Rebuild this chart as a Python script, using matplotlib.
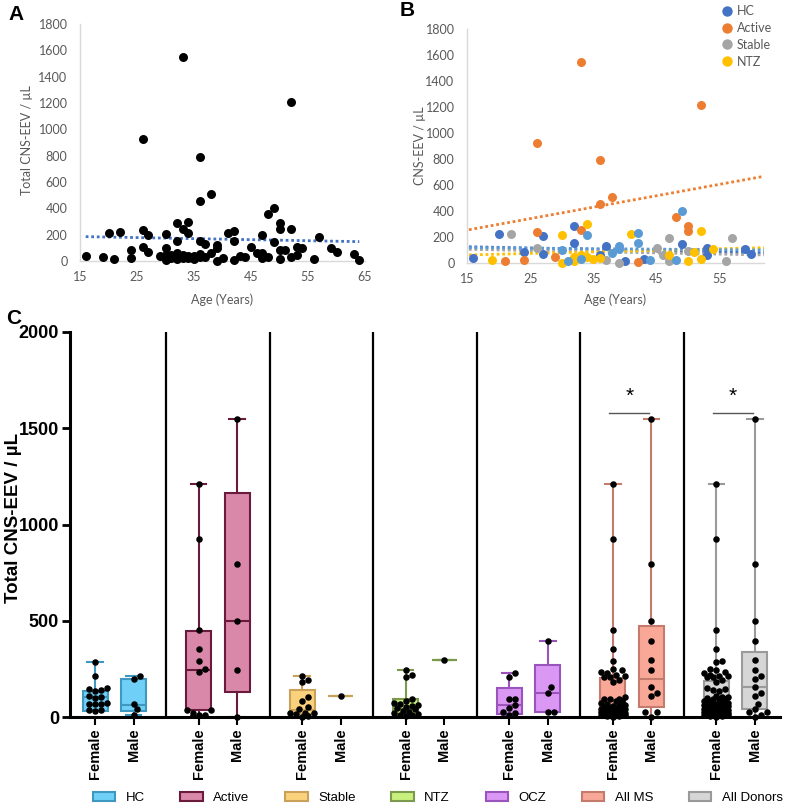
import numpy as np
import matplotlib
matplotlib.use('Agg')
import matplotlib.pyplot as plt
from matplotlib.patches import Patch
from matplotlib.lines import Line2D

# ---------------- data: panel A (age, total CNS-EEV / uL) ----------------
age_A = [16, 19, 21, 20, 22, 24, 24, 26, 26, 27, 27, 26, 29, 30, 30, 30, 30, 31, 31,
         32, 32, 32, 32, 33, 33, 33, 33, 34, 34, 34, 34, 35, 35, 36, 36, 36, 36, 36,
         37, 37, 38, 38, 39, 39, 39, 40, 41, 42, 42, 42, 43, 44, 45, 46, 47, 47, 47,
         48, 48, 49, 49, 50, 50, 50, 50, 51, 52, 52, 52, 53, 53, 54, 56, 57, 59, 60,
         63, 64]
val_A = [38, 33, 13, 212, 218, 84, 20, 235, 109, 198, 66, 927, 38, 205, 96, 46, 8, 20, 45,
         286, 152, 58, 13, 243, 1547, 46, 25, 299, 215, 38, 20, 18, 35, 793, 453, 152, 51, 30,
         129, 28, 506, 63, 122, 96, 0, 20, 215, 230, 154, 8, 38, 28, 109, 58, 198, 58, 20,
         354, 33, 400, 147, 291, 240, 84, 18, 84, 245, 1210, 33, 109, 46, 96, 18, 185, 96, 66,
         51, 8]
trend_A_age = [16, 64]
trend_A_val = [185, 147]

# ---------------- data: panel B (age, CNS-EEV / uL) per group ----------------
age_HC = [16, 20, 24, 27, 27, 32, 32, 37, 36, 40, 43, 49, 53, 53, 59, 60]
val_HC = [41, 220, 87, 208, 69, 285, 156, 131, 62, 15, 31, 146, 113, 58, 105, 69]
age_Act = [33, 52, 26, 36, 38, 36, 48, 50, 50, 33, 26, 29, 24, 21, 42]
val_Act = [1549, 1213, 923, 795, 508, 456, 354, 287, 246, 251, 236, 44, 26, 18, 5]
age_Stb = [22, 26, 37, 39, 45, 47, 46, 47, 50, 56, 57]
val_Stb = [220, 113, 23, 0, 113, 195, 62, 15, 95, 18, 190]
age_NTZ = [19, 30, 30, 34, 32, 32, 33, 34, 35, 36, 41, 47, 50, 52, 52, 51, 54]
val_NTZ = [26, 215, 3, 300, 45, 15, 60, 45, 30, 35, 220, 62, 18, 249, 31, 87, 105]
age_OCZ = [31, 33, 34, 39, 39, 42, 42, 44, 48, 49, 38, 30]
val_OCZ = [15, 31, 215, 131, 108, 228, 156, 26, 26, 402, 74, 100]
trend_B_age = [15.3, 62]
trend_B = {
    'Active': [256, 667],
    'HC': [125, 79],
    'OCZ': [118, 100],
    'Stable': [105, 62],
    'NTZ': [62, 118],
}

# ---------------- data: panel C (Female / Male per group) ----------------
groups = ['HC', 'Active', 'Stable', 'NTZ', 'OCZ', 'All MS', 'All Donors']
sexes = ['Female', 'Male']
hc_f = [287, 213, 152, 148, 140, 135, 108, 102, 98, 72, 70, 68, 65, 36, 34, 32]
hc_m = [213, 200, 68, 40, 10]
act_f = [1210, 925, 452, 352, 291, 248, 232, 36, 36, 19, 10, 10]
act_m = [1548, 793, 500, 244, 2]
stb_f = [215, 192, 183, 102, 81, 52, 43, 22, 19, 19, 17, 5, 2]
stb_m = [109]
ntz_f = [244, 218, 210, 95, 85, 75, 70, 60, 55, 50, 45, 40, 30, 25, 20, 15, 10, 8, 5]
ntz_m = [296]
ocz_f = [227, 210, 94, 94, 62, 47, 24, 22, 10]
ocz_m = [395, 154, 126, 26, 26]
allms_f = act_f + stb_f + ntz_f + ocz_f
allms_m = act_m + stb_m + ntz_m + ocz_m
alld_f = hc_f + allms_f
alld_m = hc_m + allms_m
points_C = [hc_f, hc_m, act_f, act_m, stb_f, stb_m, ntz_f, ntz_m,
            ocz_f, ocz_m, allms_f, allms_m, alld_f, alld_m]
# box stats: (whislo, q1, med, q3, whishi)
box_C = [(30, 33, 105, 137, 287), (10, 33, 62, 200, 213),
         (5, 38, 244, 448, 1210), (2, 128, 500, 1165, 1548),
         (0, 15, 38, 142, 215), (109, 109, 109, 109, 109),
         (0, 5, 40, 91, 244), (296, 296, 296, 296, 296),
         (10, 14, 62, 149, 227), (26, 28, 126, 270, 395),
         (0, 19, 57, 204, 1208), (2, 54, 197, 473, 1548),
         (0, 28, 62, 187, 1208), (2, 40, 157, 339, 1548)]
fill_C = ['#6fcff6', '#da88a9', '#fbd27c', '#c8f07c', '#db97f4', '#f9a898', '#d6d6d6']
edge_C = ['#3e98bf', '#6a1a3c', '#c9a15a', '#7c9a4e', '#9a54bc', '#c57a6e', '#9a9a9a']
signif = ['All MS', 'All Donors']

# ---------------- figure ----------------
W, H = 786, 808
fig = plt.figure(figsize=(W / 100, H / 100), dpi=100)
FONT_X = ['Lato', 'DejaVu Sans']
FONT_C = ['Liberation Sans', 'DejaVu Sans']
GRAY = '#595959'


def ax_px(l, t, r, b):
    return fig.add_axes([l / W, 1 - b / H, (r - l) / W, (b - t) / H])


def excel_style(ax):
    for s in ['top', 'right']:
        ax.spines[s].set_visible(False)
    for s in ['left', 'bottom']:
        ax.spines[s].set_color('#d9d9d9')
        ax.spines[s].set_linewidth(1.0)
    ax.tick_params(length=0, labelsize=9, labelcolor=GRAY)
    ax.tick_params(axis='x', pad=7)
    ax.tick_params(axis='y', pad=9)
    for lab in ax.get_xticklabels() + ax.get_yticklabels():
        lab.set_fontfamily(FONT_X)


# ---- Panel A ----
axA = ax_px(80, 24, 365, 261)
axA.scatter(age_A, val_A, s=42, color='black', zorder=3, clip_on=False, linewidths=0)
axA.plot(trend_A_age, trend_A_val, color='#4472C4', ls=(0, (1, 1)), lw=2, zorder=2)
axA.set_xlim(15, 65)
axA.set_ylim(0, 1800)
axA.set_xticks(range(15, 66, 10))
axA.set_yticks(range(0, 1801, 200))
excel_style(axA)
fig.text(27 / W, 1 - 140 / H, 'Total CNS-EEV / µL', rotation=90, ha='center', va='center',
         fontsize=9, color=GRAY, family=FONT_X)
fig.text(222 / W, 1 - 300 / H, 'Age (Years)', ha='center', va='center', fontsize=9,
         color=GRAY, family=FONT_X)
fig.text(8 / W, 1 - 14 / H, 'A', fontsize=15, weight='bold', va='center', family=FONT_C)

# ---- Panel B ----
axB = ax_px(467, 29, 764, 263)
series_B = [('HC', age_HC, val_HC, '#4472C4'),
            ('Active', age_Act, val_Act, '#ED7D31'),
            ('Stable', age_Stb, val_Stb, '#A5A5A5'),
            ('NTZ', age_NTZ, val_NTZ, '#FFC000'),
            ('OCZ', age_OCZ, val_OCZ, '#5B9BD5')]
for name, a, v, c in series_B:
    axB.scatter(a, v, s=42, color=c, zorder=3, clip_on=False, linewidths=0)
for name, a, v, c in series_B:
    axB.plot(trend_B_age, trend_B[name], color=c, ls=(0, (1, 1)), lw=2, zorder=2)
axB.set_xlim(15, 62)
axB.set_ylim(0, 1800)
axB.set_xticks(range(15, 56, 10))
axB.set_yticks(range(0, 1801, 200))
excel_style(axB)
fig.text(420 / W, 1 - 146 / H, 'CNS-EEV / µL', rotation=90, ha='center', va='center',
         fontsize=9, color=GRAY, family=FONT_X)
fig.text(615 / W, 1 - 300 / H, 'Age (Years)', ha='center', va='center', fontsize=9,
         color=GRAY, family=FONT_X)
fig.text(400 / W, 1 - 11 / H, 'B', fontsize=15, weight='bold', va='center', family=FONT_C)
hB = [Line2D([], [], ls='none', marker='o', ms=7.5, mec='none', mfc=c)
      for name, a, v, c in series_B[:4]]
legB = fig.legend(hB, [s[0] for s in series_B[:4]], loc='upper left',
                  bbox_to_anchor=(716 / W, 1 + 1 / H), frameon=False, borderpad=0,
                  handlelength=0.7, handletextpad=0.45, labelspacing=0.38,
                  prop={'family': FONT_X, 'size': 9})
for t in legB.get_texts():
    t.set_color(GRAY)

# ---- Panel C ----
axC = ax_px(70, 332, 780, 717)
GAP = 2.69
pos_C = []
for gi in range(len(groups)):
    pos_C += [gi * GAP, gi * GAP + 1]
XS = 38.5          # px per x unit
YS = 385 / 2000.0  # px per y unit


def swarm(vals, pos, d=6.0, maxoff=12.5):
    vals = np.asarray(vals, float)
    placed = []
    out = np.zeros(len(vals))
    cands = [0.0]
    k = 1
    while k * d / 2 <= maxoff:
        cands += [k * d / 2, -k * d / 2]
        k += 1
    for i in np.argsort(vals):
        y = vals[i] * YS
        best, bestd = 0.0, -1
        for c in cands:
            md = min([np.hypot(c - px, y - py) for px, py in placed], default=1e9)
            if md >= d:
                best = c
                break
            if md > bestd:
                bestd, best = md, c
        placed.append((best, y))
        out[i] = pos + best / XS
    return out


for k, (pts, st, p) in enumerate(zip(points_C, box_C, pos_C)):
    gi = k // 2
    fc, ec = fill_C[gi], edge_C[gi]
    stats = [dict(whislo=st[0], q1=st[1], med=st[2], q3=st[3], whishi=st[4], fliers=[])]
    axC.bxp(stats, positions=[p], widths=0.65, capwidths=0.4, patch_artist=True,
            showfliers=False,
            boxprops=dict(facecolor=fc, edgecolor=ec, linewidth=1.5),
            whiskerprops=dict(color=ec, linewidth=1.5),
            capprops=dict(color=ec, linewidth=1.5),
            medianprops=dict(color=ec, linewidth=1.5), manage_ticks=False)
    xs = swarm(pts, p)
    axC.scatter(xs, pts, s=22, color='black', zorder=5, clip_on=False, linewidths=0)

seps = [gi * GAP + 1 + (GAP - 1) / 2 for gi in range(len(groups) - 1)]
axC.vlines(seps, 0, 2000, color='black', lw=1.6, zorder=1)

for g in signif:
    gi = groups.index(g)
    x0, x1 = gi * GAP - 0.1, gi * GAP + 0.95
    axC.plot([x0, x1], [1580, 1580], color='#555555', lw=1)
    axC.text((x0 + x1) / 2, 1665, '*', ha='center', va='center', fontsize=15,
             family=FONT_C)

axC.set_xlim(-0.65, (len(groups) - 1) * GAP + 1 + 0.65)
axC.set_ylim(0, 2000)
axC.set_yticks(range(0, 2001, 500))
axC.set_xticks(pos_C)
axC.set_xticklabels(sexes * len(groups), rotation=90, fontsize=10.5, weight='bold',
                    family=FONT_C)
for lab in axC.get_yticklabels():
    lab.set_fontfamily(FONT_C)
    lab.set_fontweight('bold')
    lab.set_fontsize(13)
axC.tick_params(axis='y', length=6, width=2, pad=2)
axC.tick_params(axis='x', length=6, width=1.5, pad=2)
for s in ['top', 'right']:
    axC.spines[s].set_visible(False)
for s in ['left', 'bottom']:
    axC.spines[s].set_linewidth(2.2)
fig.text(14 / W, 1 - 518 / H, 'Total CNS-EEV / µL', rotation=90, ha='center', va='center',
         fontsize=13.5, weight='bold', family=FONT_C)
fig.text(6 / W, 1 - 318 / H, 'C', fontsize=15, weight='bold', va='center', family=FONT_C)

handles = [Patch(facecolor=f, edgecolor=e, linewidth=1.5) for f, e in zip(fill_C, edge_C)]
fig.legend(handles, groups, loc='center left', bbox_to_anchor=(86 / W, 1 - 798 / H),
           ncol=7, frameon=False, borderpad=0, handlelength=1.7, handleheight=0.75,
           handletextpad=0.8, columnspacing=2.7, prop={'family': FONT_C, 'size': 9.5})

fig.savefig('out.png', dpi=100)
